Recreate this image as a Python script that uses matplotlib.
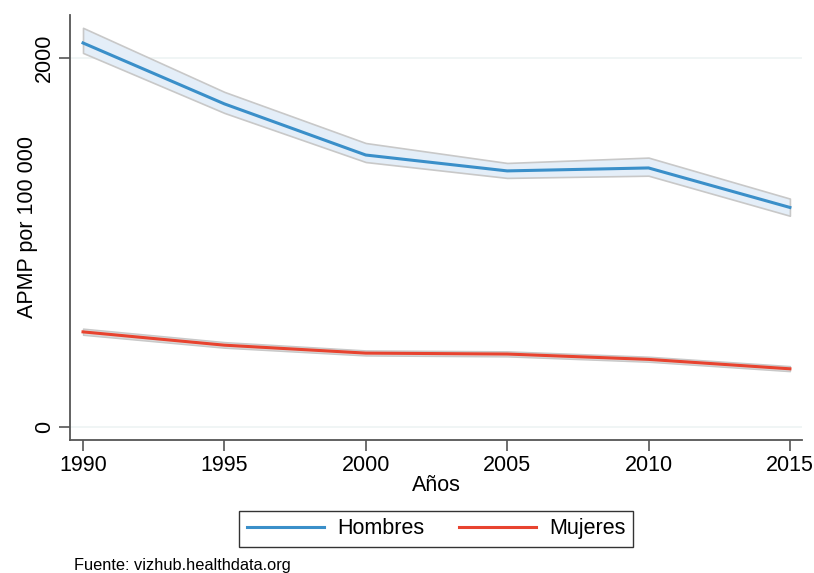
import numpy as np
import matplotlib
matplotlib.use("Agg")
import matplotlib.pyplot as plt

plt.rcParams['font.family'] = ['Liberation Sans', 'DejaVu Sans']

# Datos (APMP por 100 000)
years = np.array([1990, 1995, 2000, 2005, 2010, 2015])
hombres = np.array([2081, 1751, 1474, 1388, 1404, 1190])
hombres_hi = np.array([2163, 1816, 1539, 1431, 1460, 1238])
hombres_lo = np.array([2027, 1702, 1436, 1350, 1362, 1145])
mujeres = np.array([516, 444, 401, 396, 367, 316])
mujeres_hi = np.array([534, 461, 416, 411, 382, 331])
mujeres_lo = np.array([500, 430, 388, 383, 354, 303])

color_h = '#3a8fc9'
color_m = '#e8432f'
fs = 15.5

fig = plt.figure(figsize=(8.14, 5.73), dpi=100)
ax = fig.add_axes([0.086, 0.232, 0.899, 0.742])

# Bandas de confianza
ax.fill_between(years, hombres_lo, hombres_hi, facecolor='#e4eef8',
                edgecolor='#c8c8c8', linewidth=1.2, zorder=2)
ax.fill_between(years, mujeres_lo, mujeres_hi, facecolor='#dcdcdc',
                edgecolor='#c8c8c8', linewidth=1.0, zorder=2)

ax.plot(years, hombres, color=color_h, linewidth=2.2, label='Hombres', zorder=3)
ax.plot(years, mujeres, color=color_m, linewidth=2.2, label='Mujeres', zorder=3)

# Ejes
ax.set_xlim(1989.54, 2015.42)
ax.set_ylim(-70, 2233)
ax.set_xticks(years)
ax.set_yticks([0, 2000])
ax.set_yticklabels(['0', '2000'], rotation=90, va='center')
ax.grid(axis='y', color='#eef3f3', linewidth=1.2, zorder=0)
ax.set_axisbelow(True)

for s in ['top', 'right']:
    ax.spines[s].set_visible(False)
for s in ['left', 'bottom']:
    ax.spines[s].set_color('#555555')
    ax.spines[s].set_linewidth(1.3)
ax.tick_params(axis='both', direction='out', length=8, width=1.2,
               color='#555555', labelsize=fs, pad=3)

ax.set_xlabel('Años', fontsize=fs, labelpad=-1)
ax.set_ylabel('APMP por 100 000', fontsize=fs, labelpad=-3)

leg = fig.legend(loc='center', bbox_to_anchor=(0.536, 0.077), ncol=2,
                 fontsize=fs, frameon=True, fancybox=False, handlelength=3.6,
                 columnspacing=1.6, borderpad=0.35, handletextpad=0.6,
                 borderaxespad=0)
leg.get_frame().set_edgecolor('black')
leg.get_frame().set_linewidth(1.0)

fig.text(0.091, 0.006, 'Fuente: vizhub.healthdata.org', fontsize=11.8)

fig.savefig('out.png', dpi=100, facecolor='white')
